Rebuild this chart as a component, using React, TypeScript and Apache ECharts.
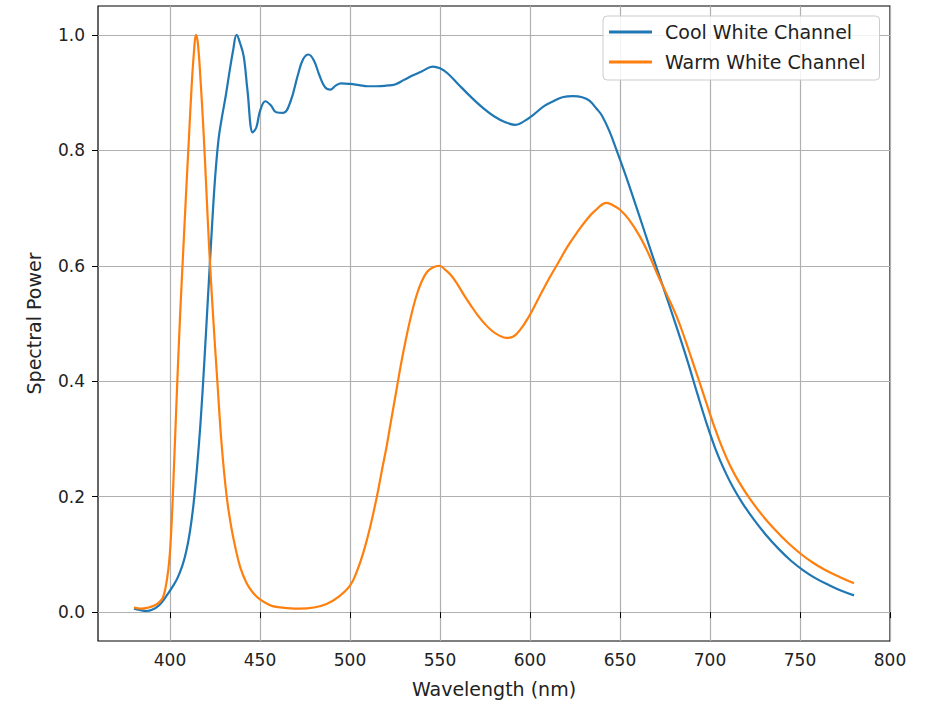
import React, { useEffect, useRef } from "react";
import * as echarts from "echarts";

const coolWavelength = [
  380, 383, 387, 390, 394, 398, 401, 404, 407, 409, 411, 413, 415, 417, 419, 421, 423, 425, 427, 429,
  431, 433, 435, 437, 439, 441, 443, 446, 448, 450, 453, 456, 459, 463, 467, 471, 474, 477, 480, 483, 486,
  489, 492, 495, 500, 505, 510, 515, 520, 525, 530, 535, 540, 546, 550, 554, 560, 567, 574, 580, 586, 592,
  597, 602, 608, 613, 618, 624, 629, 633, 637, 640, 644, 648, 653, 658, 663, 668, 673, 678, 683, 688,
  693, 698, 703, 708, 713, 718, 724, 731, 738, 745, 752, 759, 766, 773, 780,
];
const coolPower = [
  0.006, 0.004, 0.002, 0.004, 0.012, 0.028, 0.042, 0.058, 0.082, 0.105, 0.138, 0.185, 0.25, 0.33, 0.43, 0.54, 0.65, 0.75, 0.82, 0.86,
  0.895, 0.935, 0.972, 1.0, 0.985, 0.962, 0.905, 0.831, 0.84, 0.868, 0.885, 0.878, 0.866, 0.865, 0.885, 0.93, 0.958, 0.966, 0.955, 0.93, 0.91,
  0.905, 0.912, 0.916, 0.915, 0.913, 0.911, 0.911, 0.912, 0.914, 0.922, 0.93, 0.937, 0.945, 0.942, 0.934, 0.915, 0.893, 0.873, 0.859, 0.849, 0.844,
  0.851, 0.862, 0.877, 0.885, 0.892, 0.894, 0.892, 0.886, 0.872, 0.86, 0.834, 0.801, 0.758, 0.712, 0.665, 0.618, 0.572, 0.526, 0.479, 0.43,
  0.378, 0.328, 0.283, 0.246, 0.215, 0.189, 0.162, 0.134, 0.11, 0.089, 0.072, 0.058, 0.047, 0.037, 0.029,
];

const warmWavelength = [
  380, 384, 388, 391, 394, 396, 397.5, 399, 400, 401, 402, 403, 404, 405, 406, 407.5, 409, 410.5, 412, 413.3,
  414.4, 415.5, 417, 418.5, 420, 421.8, 424, 426.3, 428.7, 431.5, 434, 436.1, 439, 442.6, 446, 450, 455, 459, 465, 472,
  480, 487, 493, 500, 504, 507.4, 511, 514.8, 518, 520.4, 523, 525.9, 528, 531, 534, 537, 540, 543, 546, 549.6,
  553, 556, 559.3, 563, 567, 571, 575, 579, 583, 587, 591, 595, 599, 603, 607, 611, 616, 621, 626, 631,
  636, 642.6, 646, 650, 655, 661, 666, 670.4, 676, 681.5, 686, 690, 694, 698, 702, 706, 711, 716, 722, 729,
  736, 743, 750, 757, 764, 772, 780,
];
const warmPower = [
  0.008, 0.006, 0.008, 0.011, 0.017, 0.025, 0.042, 0.072, 0.105, 0.16, 0.235, 0.315, 0.395, 0.47, 0.54, 0.635, 0.73, 0.82, 0.91, 0.97,
  1.0, 0.985, 0.92, 0.84, 0.745, 0.628, 0.51, 0.4, 0.29, 0.2, 0.148, 0.115, 0.078, 0.05, 0.034, 0.022, 0.013, 0.009, 0.007, 0.006,
  0.008, 0.014, 0.025, 0.046, 0.072, 0.103, 0.145, 0.198, 0.25, 0.288, 0.335, 0.386, 0.424, 0.472, 0.514, 0.549, 0.574, 0.59, 0.597, 0.6,
  0.593, 0.584, 0.57, 0.551, 0.532, 0.514, 0.499, 0.487, 0.479, 0.475, 0.478, 0.491, 0.51, 0.533, 0.557, 0.58, 0.607, 0.634, 0.657, 0.678,
  0.695, 0.709, 0.705, 0.697, 0.68, 0.651, 0.62, 0.588, 0.55, 0.512, 0.474, 0.437, 0.4, 0.362, 0.325, 0.291, 0.255, 0.226, 0.197, 0.168,
  0.143, 0.121, 0.102, 0.086, 0.073, 0.061, 0.05,
];

const seriesNames = ["Cool White Channel", "Warm White Channel"];
const xTicks = [400, 450, 500, 550, 600, 650, 700, 750, 800];
const yTicks = [0, 0.2, 0.4, 0.6, 0.8, 1.0];

const FONT = "'DejaVu Sans', Verdana, sans-serif";

function pairs(xs: number[], ys: number[]) {
  return xs.map((x, i) => [x, ys[i]]);
}

function isTick(v: number, ticks: number[]) {
  return ticks.some((t) => Math.abs(t - v) < 1e-6);
}

export default function App() {
  const ref = useRef<HTMLDivElement>(null);
  useEffect(() => {
    if (!ref.current) return;
    const chart = echarts.init(ref.current, null, { renderer: "svg" });
    chart.setOption({
      animation: false,
      backgroundColor: "#ffffff",
      grid: {
        left: 98,
        right: 40,
        top: 6,
        bottom: 64,
        show: true,
        borderColor: "#000000",
        borderWidth: 1.2,
        backgroundColor: "transparent",
      },
      legend: {
        orient: "vertical",
        left: 603,
        top: 16,
        data: seriesNames,
        icon: "rect",
        itemWidth: 43,
        itemHeight: 3,
        itemGap: 10,
        padding: [6, 14, 8, 6],
        backgroundColor: "rgba(255,255,255,0.85)",
        borderColor: "#cccccc",
        borderWidth: 1,
        borderRadius: 4,
        textStyle: {
          fontFamily: FONT,
          fontSize: 19,
          color: "#222222",
          lineHeight: 20,
          padding: [0, 0, 0, 8],
        },
      },
      xAxis: {
        type: "value",
        min: 360,
        max: 800,
        minInterval: 50,
        maxInterval: 50,
        name: "Wavelength (nm)",
        nameLocation: "middle",
        nameGap: 38,
        nameTextStyle: { fontFamily: FONT, fontSize: 19, color: "#222222" },
        axisLine: { show: false },
        axisTick: {
          show: true,
          length: 6,
          customValues: xTicks,
          lineStyle: { color: "#000000", width: 1 },
        },
        axisLabel: {
          fontFamily: FONT,
          fontSize: 17,
          color: "#222222",
          margin: 10,
          customValues: xTicks,
          formatter: (v: number) => (isTick(v, xTicks) ? String(Math.round(v)) : ""),
        },
        splitLine: { show: true, lineStyle: { color: "#b0b0b0", width: 1.2 } },
      },
      yAxis: {
        type: "value",
        min: -0.05,
        max: 1.05,
        minInterval: 0.2,
        maxInterval: 0.2,
        name: "Spectral Power",
        nameLocation: "middle",
        nameGap: 55,
        nameTextStyle: { fontFamily: FONT, fontSize: 19, color: "#222222" },
        axisLine: { show: false },
        axisTick: {
          show: true,
          length: 6,
          customValues: yTicks,
          lineStyle: { color: "#000000", width: 1 },
        },
        axisLabel: {
          fontFamily: FONT,
          fontSize: 17,
          color: "#222222",
          margin: 13,
          customValues: yTicks,
          formatter: (v: number) => (isTick(v, yTicks) ? (Math.abs(v) < 1e-9 ? 0 : v).toFixed(1) : ""),
        },
        splitLine: { show: true, lineStyle: { color: "#b0b0b0", width: 1.2 } },
      },
      series: [
        {
          name: seriesNames[0],
          type: "line",
          data: pairs(coolWavelength, coolPower),
          showSymbol: false,
          symbol: "none",
          smooth: 0.4,
          lineStyle: { color: "#1f77b4", width: 2.2 },
          itemStyle: { color: "#1f77b4" },
        },
        {
          name: seriesNames[1],
          type: "line",
          data: pairs(warmWavelength, warmPower),
          showSymbol: false,
          symbol: "none",
          smooth: 0.4,
          lineStyle: { color: "#ff7f0e", width: 2.2 },
          itemStyle: { color: "#ff7f0e" },
        },
      ],
    });
    return () => chart.dispose();
  }, []);
  return (
    <div
      ref={ref}
      style={{ position: "fixed", left: 0, top: 0, width: 930, height: 705, background: "#ffffff" }}
    />
  );
}
